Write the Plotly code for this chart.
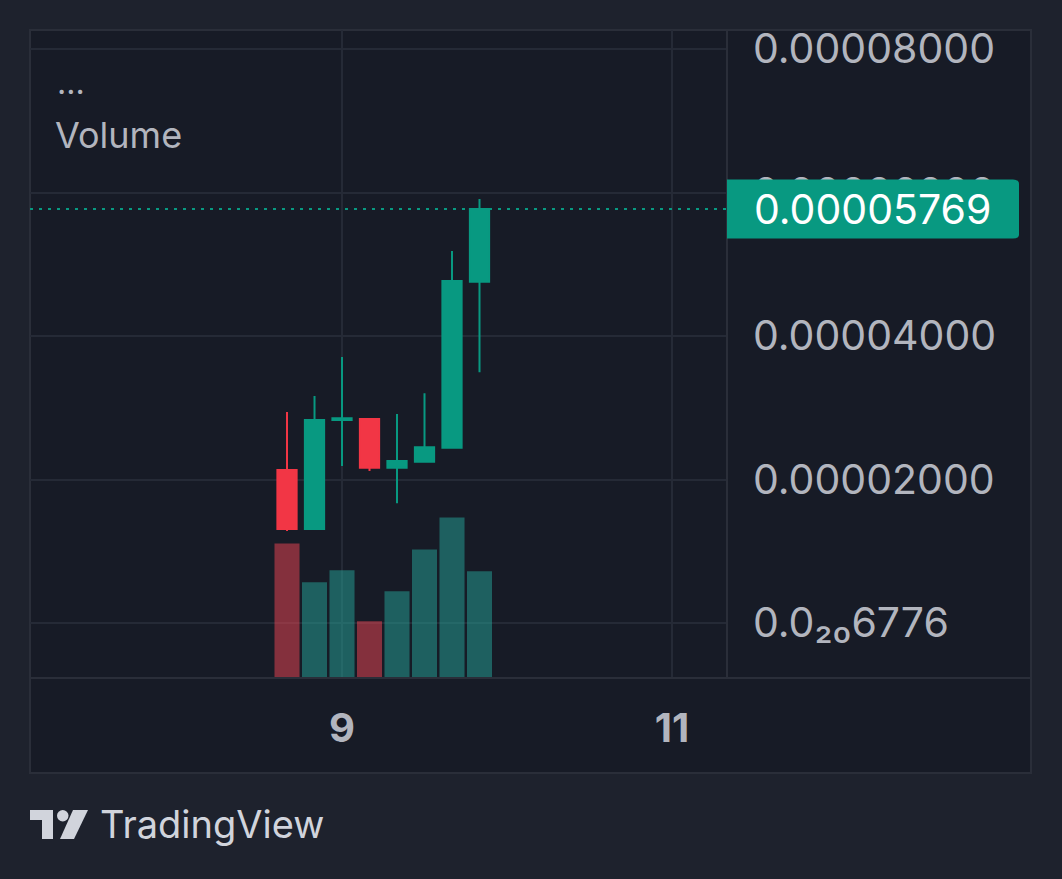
import plotly.graph_objects as go

# 4h candles (price in quote units)
times = ['2024-03-08 16:00', '2024-03-08 20:00', '2024-03-09 00:00', '2024-03-09 04:00',
         '2024-03-09 08:00', '2024-03-09 12:00', '2024-03-09 16:00', '2024-03-09 20:00']
opens = [0.00002132, 0.00001310, 0.00002830, 0.00002843, 0.00002165, 0.00002248, 0.00002443, 0.00004757]
highs = [0.00002941, 0.00003164, 0.00003707, 0.00002850, 0.00002913, 0.00003201, 0.00005185, 0.00005909]
lows = [0.00001282, 0.00001310, 0.00002188, 0.00002118, 0.00001668, 0.00002234, 0.00002443, 0.00003494]
closes = [0.00001310, 0.00002829, 0.00002855, 0.00002165, 0.00002258, 0.00002449, 0.00004767, 0.00005769]
volumes = [135e6, 96e6, 108e6, 57e6, 87e6, 129e6, 161e6, 107e6]

price_ticks = [0, 0.00002, 0.00004, 0.00006, 0.00008]
price_labels = ['0.0\u2082\u20806776', '0.00002000', '0.00004000', '0.00006000', '0.00008000']
day_ticks = ['2024-03-09', '2024-03-11']
day_labels = ['9', '11']
last_price_text = '0.00005769'

UP = '#089981'
DOWN = '#f23645'
VOL_UP = 'rgba(38,166,154,0.5)'
VOL_DOWN = 'rgba(242,70,84,0.5)'
TEXT = '#b2b5be'
GRID = '#252a36'
PANE = '#171b26'
PAPER = '#1e222d'
FONT = 'Inter, Roboto, sans-serif'


def px_x(px):
    """ pixel -> paper x (plot area 30..727) """
    return (px - 30) / 697


def px_y(py):
    """ pixel -> paper y (plot area 30..678) """
    return (678 - py) / 648


fig = go.Figure()

vol_colors = [VOL_DOWN if c < o else VOL_UP for o, c in zip(opens, closes)]
fig.add_trace(go.Bar(x=times, y=volumes, marker_color=vol_colors, marker_line_width=0,
                     width=4 * 3600 * 1000 * 0.91, yaxis='y2', hoverinfo='skip', showlegend=False))

fig.add_trace(go.Candlestick(
    x=times, open=opens, high=highs, low=lows, close=closes,
    increasing=dict(line=dict(color=UP, width=2), fillcolor=UP),
    decreasing=dict(line=dict(color=DOWN, width=2), fillcolor=DOWN),
    whiskerwidth=0, hoverinfo='skip', showlegend=False,
))

last_close = closes[-1]
half_h = 0.00000411

shapes = [
    # chart frame
    dict(type='rect', xref='paper', yref='paper', x0=0, x1=px_x(1031), y0=px_y(773), y1=1,
         fillcolor=PANE, line=dict(color='#2a2e39', width=2), layer='below'),
    # time axis separator
    dict(type='line', xref='paper', yref='paper', x0=0, x1=px_x(1031), y0=0, y1=0,
         line=dict(color='#2a2e39', width=2)),
    # price scale separator
    dict(type='line', xref='paper', yref='paper', x0=1, x1=1, y0=0, y1=1,
         line=dict(color='#2a2e39', width=2)),
    # last price line
    dict(type='line', xref='paper', yref='y', x0=0, x1=1, y0=last_close, y1=last_close,
         line=dict(color=UP, width=2, dash='3px,6px')),
    # last price label box
    dict(type='path', xref='paper', yref='y', layer='above', fillcolor=UP, line=dict(width=0),
         path=(f'M {px_x(727)} {last_close - half_h} L {px_x(1013)} {last_close - half_h} '
               f'Q {px_x(1019)} {last_close - half_h} {px_x(1019)} {last_close - half_h * 0.85} '
               f'L {px_x(1019)} {last_close + half_h * 0.85} '
               f'Q {px_x(1019)} {last_close + half_h} {px_x(1013)} {last_close + half_h} '
               f'L {px_x(727)} {last_close + half_h} Z')),
    # TradingView logo
    dict(type='path', xref='paper', yref='paper', fillcolor='#d1d4dc', line=dict(width=0),
         path=(f'M {px_x(30)} {px_y(810)} L {px_x(53)} {px_y(810)} L {px_x(53)} {px_y(839)} '
               f'L {px_x(42)} {px_y(839)} L {px_x(42)} {px_y(820)} L {px_x(30)} {px_y(820)} Z')),
    dict(type='circle', xref='paper', yref='paper', fillcolor='#d1d4dc', line=dict(width=0),
         x0=px_x(57), x1=px_x(68.5), y0=px_y(821.5), y1=px_y(810)),
    dict(type='path', xref='paper', yref='paper', fillcolor='#d1d4dc', line=dict(width=0),
         path=(f'M {px_x(73)} {px_y(810)} L {px_x(88)} {px_y(810)} L {px_x(74)} {px_y(839)} '
               f'L {px_x(60)} {px_y(839)} Z')),
]

annotations = [
    dict(text='...', x=px_x(55), y=px_y(82), xref='paper', yref='paper', xanchor='left',
         yanchor='middle', showarrow=False, font=dict(size=32, color=TEXT, family=FONT)),
    dict(text='Volume', x=px_x(53), y=px_y(135), xref='paper', yref='paper', xanchor='left',
         yanchor='middle', showarrow=False, font=dict(size=36, color=TEXT, family=FONT)),
    dict(text=last_price_text, x=px_x(752), y=last_close, xref='paper', yref='y', xanchor='left',
         yanchor='middle', showarrow=False, font=dict(size=41, color='#ffffff', family=FONT)),
    dict(text='TradingView', x=px_x(98), y=px_y(824), xref='paper', yref='paper', xanchor='left',
         yanchor='middle', showarrow=False, font=dict(size=38, color='#d1d4dc', family=FONT)),
]

fig.update_layout(
    width=1062, height=879,
    margin=dict(l=30, r=335, t=30, b=201),
    paper_bgcolor=PAPER,
    plot_bgcolor=PANE,
    boxgap=0.3,
    boxgroupgap=0,
    xaxis=dict(
        type='date',
        range=['2024-03-07 02:37', '2024-03-11 08:00'],
        tickvals=day_ticks, ticktext=day_labels,
        tickfont=dict(size=40, color=TEXT, family=FONT, weight='bold'),
        ticks='', ticklabelstandoff=23,
        showgrid=True, gridcolor=GRID, gridwidth=2,
        zeroline=False, showline=False,
        rangeslider=dict(visible=False),
        fixedrange=True,
    ),
    yaxis=dict(
        side='right',
        range=[-0.00000766, 0.00008265],
        tickvals=price_ticks, ticktext=price_labels,
        tickfont=dict(size=41, color=TEXT, family=FONT),
        ticks='', ticklabelstandoff=25,
        showgrid=True, gridcolor=GRID, gridwidth=2,
        zeroline=False, showline=False,
        fixedrange=True,
    ),
    yaxis2=dict(
        overlaying='y', range=[0, 650e6],
        showgrid=False, showticklabels=False, zeroline=False, fixedrange=True,
    ),
    shapes=shapes,
    annotations=annotations,
    showlegend=False,
)

# the page's default body margin would shift the chart by 8px
fig.write_html('out.html', config={'displayModeBar': False},
               post_script="document.body.style.margin='0';")
